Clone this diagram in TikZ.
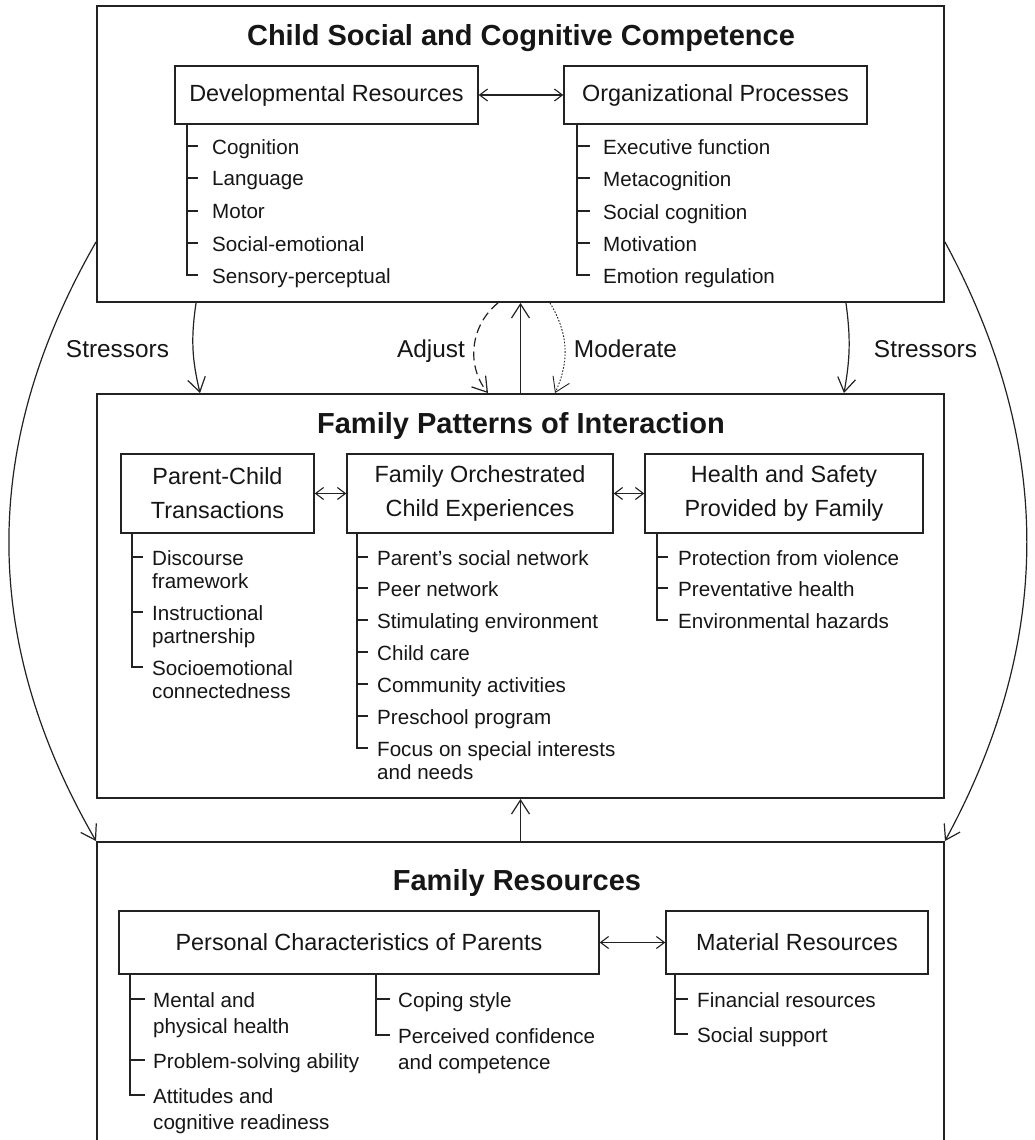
\documentclass[tikz,border=0pt]{standalone}
\usepackage{fontspec}
\setmainfont{Liberation Sans}
\usetikzlibrary{arrows.meta}
\definecolor{ln}{HTML}{222222}
\definecolor{tx}{HTML}{161616}
\newcommand\myItemFont{\fontsize{20.6}{23}\selectfont}
\newcommand\myItemFontB{\fontsize{20.6}{26}\selectfont}
\newcommand\myHeadFont{\fontsize{23.4}{34}\selectfont}
\newcommand\myTitleFont{\fontsize{29}{35}\selectfont\bfseries}
\newcommand\myLabelFont{\fontsize{24.4}{28}\selectfont}
\begin{document}
\begin{tikzpicture}[x=1pt,y=-1pt,
  bigbox/.style={draw=ln, line width=1.9pt, inner sep=0pt},
  hbox/.style={draw=ln, line width=1.4pt, align=center, font=\myHeadFont, text=tx, inner sep=0pt},
  itm/.style={anchor=north west, inner sep=0pt, align=left, font=\myItemFont, text=tx},
  itmb/.style={anchor=north west, inner sep=0pt, align=left, font=\myItemFontB, text=tx},
  ttl/.style={font=\myTitleFont, text=tx, inner sep=0pt, anchor=base},
  lbl/.style={font=\myLabelFont, text=tx, inner sep=0pt, anchor=base},
  brk/.style={draw=ln, line width=1.2pt},
  brkb/.style={draw=ln, line width=2pt},
  conn/.style={draw=ln, line width=1.2pt, -{Straight Barb[length=14pt,width=18pt]}},
  dbl/.style={draw=ln, line width=1.1pt, {Straight Barb[length=8pt,width=12pt]}-{Straight Barb[length=8pt,width=12pt]}}
]
\useasboundingbox (0,0) rectangle (1034,1140);
\fill[white] (0,0) rectangle (1034,1140);

% main boxes
\node[bigbox, minimum width=847pt, minimum height=296pt] (csc) at (520.5,154) {};
\node[bigbox, minimum width=847pt, minimum height=404pt] (fpi) at (520.5,596) {};
\node[bigbox, minimum width=847pt, minimum height=340pt] (fr) at (520.5,1012) {};

% titles
\node[ttl] (t1) at (521,46) {Child Social and Cognitive Competence};
\node[ttl] (t2) at (521,433) {Family Patterns of Interaction};
\node[ttl] (t3) at (517,890) {Family Resources};

% ---------- top section ----------
\node[hbox, minimum width=303pt, minimum height=58pt] (dr) at (326.5,95) {Developmental Resources};
\node[hbox, minimum width=303pt, minimum height=58pt] (op) at (715.5,95) {Organizational Processes};
\draw[dbl] (dr.east) -- (op.west);

\draw[brk] (187,124) -- (187,275) -- (198,275);
\foreach \y in {146,178,211,243} \draw[brk] (187,\y) -- (198,\y);
\node[itm] (dr1) at (212,139) {Cognition};
\node[itm] (dr2) at (212,171) {Language};
\node[itm] (dr3) at (212,204) {Motor};
\node[itm] (dr4) at (212,236) {Social-emotional};
\node[itm] (dr5) at (212,268) {Sensory-perceptual};

\draw[brk] (577,124) -- (577,275) -- (590,275);
\foreach \y in {146,178,211,243} \draw[brk] (577,\y) -- (590,\y);
\node[itm] (op1) at (603,139) {Executive function};
\node[itm] (op2) at (603,171) {Metacognition};
\node[itm] (op3) at (603,204) {Social cognition};
\node[itm] (op4) at (603,236) {Motivation};
\node[itm] (op5) at (603,268) {Emotion regulation};

% ---------- middle section ----------
\node[hbox, minimum width=193pt, minimum height=79pt] (pc) at (217.5,493.5) {Parent-Child\\Transactions};
\node[hbox, minimum width=266pt, minimum height=79pt] (fo) at (480,493.5) {Family Orchestrated\\Child Experiences};
\node[hbox, minimum width=278pt, minimum height=79pt] (hs) at (784,493.5) {Health and Safety\\Provided by Family};
\draw[dbl] (pc.east) -- (fo.west);
\draw[dbl] (fo.east) -- (hs.west);

\draw[brk] (132,533) -- (132,667) -- (143,667);
\foreach \y in {557,612} \draw[brk] (132,\y) -- (143,\y);
\node[itm] (pc1) at (152,550) {Discourse\\framework};
\node[itm] (pc2) at (152,605) {Instructional\\partnership};
\node[itm] (pc3) at (152,660) {Socioemotional\\connectedness};

\draw[brk] (357,533) -- (357,748) -- (368,748);
\foreach \y in {557,588,620,652,684,716} \draw[brk] (357,\y) -- (368,\y);
\node[itm] (fo1) at (377,550) {Parent's social network};
\node[itm] (fo2) at (377,581) {Peer network};
\node[itm] (fo3) at (377,613) {Stimulating environment};
\node[itm] (fo4) at (377,645) {Child care};
\node[itm] (fo5) at (377,677) {Community activities};
\node[itm] (fo6) at (377,709) {Preschool program};
\node[itm] (fo7) at (377,741) {Focus on special interests\\and needs};

\draw[brk] (657,533) -- (657,620) -- (668,620);
\foreach \y in {557,588} \draw[brk] (657,\y) -- (668,\y);
\node[itm] (hs1) at (678,550) {Protection from violence};
\node[itm] (hs2) at (678,581) {Preventative health};
\node[itm] (hs3) at (678,613) {Environmental hazards};

% ---------- bottom section ----------
\node[hbox, minimum width=480pt, minimum height=63pt] (pcp) at (359,942.5) {Personal Characteristics of Parents};
\node[hbox, minimum width=262pt, minimum height=63pt] (mr) at (797,942.5) {Material Resources};
\draw[dbl] (pcp.east) -- (mr.west);

\draw[brkb] (130,974) -- (130,1095) -- (145,1095);
\foreach \y in {999,1060} \draw[brkb] (130,\y) -- (145,\y);
\node[itmb] (pp1) at (153,992) {Mental and\\physical health};
\node[itmb] (pp2) at (153,1053) {Problem-solving ability};
\node[itmb] (pp3) at (153,1088) {Attitudes and\\cognitive readiness};

\draw[brkb] (376,974) -- (376,1035) -- (390,1035);
\draw[brkb] (376,999) -- (390,999);
\node[itmb] (pp4) at (398,992) {Coping style};
\node[itmb] (pp5) at (398,1028) {Perceived confidence\\and competence};

\draw[brkb] (675,974) -- (675,1034) -- (688,1034);
\draw[brkb] (675,999) -- (688,999);
\node[itmb] (mr1) at (697,992) {Financial resources};
\node[itmb] (mr2) at (697,1027) {Social support};

% ---------- connectors ----------
\node[lbl] (s1) at (117.5,357) {Stressors};
\node[lbl] (aj) at (431,357) {Adjust};
\node[lbl] (md) at (625.5,357) {Moderate};
\node[lbl] (s2) at (925.5,357) {Stressors};

\draw[conn] ([xshift=100pt]csc.south west) to[bend right=11] ([xshift=104pt]fpi.north west);
\draw[conn] ([xshift=-99pt]csc.south east) to[bend left=9] ([xshift=-101pt]fpi.north east);
\draw[conn, dash pattern=on 9pt off 5pt] ([xshift=-22.5pt]csc.south) to[bend right=45] ([xshift=-32.5pt]fpi.north);
\draw[conn] (fpi.north) -- (csc.south);
\draw[conn, line width=0.9pt, dash pattern=on 1.6pt off 1.6pt] ([xshift=29.5pt]csc.south) to[bend left=28] ([xshift=34.5pt]fpi.north);
\draw[conn] (fr.north) -- (fpi.south);

\draw[conn] ([yshift=61pt]csc.south west) .. controls (-20,444) and (-20,640) .. (fr.north west);
\draw[conn] ([yshift=61pt]csc.south east) .. controls (1054,444) and (1054,640) .. (fr.north east);
\end{tikzpicture}
\end{document}
